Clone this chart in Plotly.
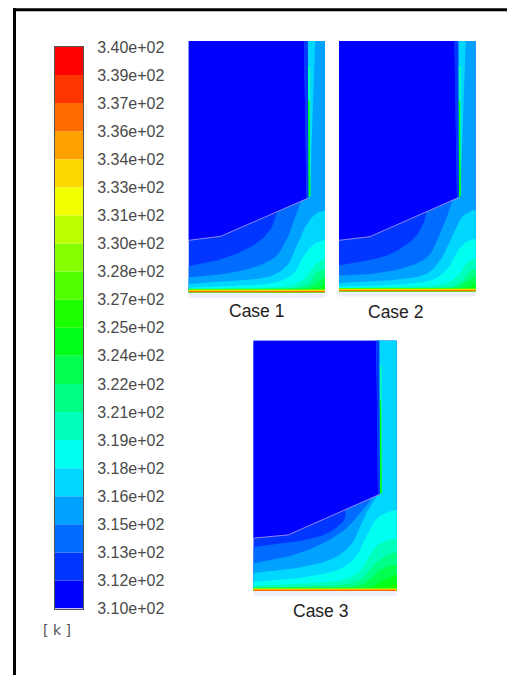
import plotly.graph_objects as go

W, H = 507, 676

# ---------- data ----------
legend_levels = [310, 311.5, 313, 314.5, 316, 317.5, 319, 320.5, 322, 323.5, 325,
                 326.5, 328, 329.5, 331, 332.5, 334, 335.5, 337, 338.5, 340]
legend_labels = ["3.10e+02", "3.12e+02", "3.13e+02", "3.15e+02", "3.16e+02", "3.18e+02", "3.19e+02",
                 "3.21e+02", "3.22e+02", "3.24e+02", "3.25e+02", "3.27e+02", "3.28e+02", "3.30e+02",
                 "3.31e+02", "3.33e+02", "3.34e+02", "3.36e+02", "3.37e+02", "3.39e+02", "3.40e+02"]
band_colors = ["#0000ff", "#0036ff", "#006bff", "#00a1ff", "#00d7ff", "#00fff1", "#00ffbc", "#00ff86",
               "#00ff50", "#00ff1b", "#1bff00", "#50ff00", "#86ff00", "#bcff00", "#f1ff00", "#ffd700",
               "#ffa100", "#ff6b00", "#ff3600", "#ff0000"]

case_names = ["Case 1", "Case 2", "Case 3"]

# isotherm curves (x, y) in panel units; first curve bounds band 2, next band 3, ...
case1_curves = [
    [(0, 26), (25, 31), (48, 38.7), (68, 49), (82, 63), (88, 79), (90, 86)],
    [(0, 15), (25, 17), (58, 22.7), (85, 34), (98, 52.7), (107, 76), (113, 93)],
    [(0, 8.3), (42, 11), (78, 15), (98, 26), (108, 46), (118, 67.7), (128, 79), (137, 82)],
    [(0, 4.5), (42, 6), (85, 9.3), (105, 19), (115, 36), (125, 47.7), (137, 52.7)],
    [(0, 3), (58, 4), (98, 6), (115, 12.7), (125, 26), (137, 34.3)],
    [(0, 2.6), (92, 3.3), (118, 7.7), (128, 19.3), (137, 22.7)],
    [(0, 2.3), (105, 2.7), (125, 7.7), (137, 16)],
    [(0, 2), (115, 2.2), (137, 9.3)],
    [(0, 1.8), (125, 2), (137, 5)],
]
case2_curves = [
    [(0, 25.7), (29, 30.7), (53, 38), (74, 52), (84, 67), (87, 78), (88, 85)],
    [(0, 15.7), (29, 17), (63, 22.7), (88, 34), (99, 53), (108, 75), (113, 90)],
    [(0, 8.3), (46, 10.7), (83, 15.7), (99, 28), (111, 50), (121, 71.7), (131, 80), (137, 81)],
    [(0, 4.5), (46, 6), (89, 10), (108, 21.7), (118, 40), (128, 50), (137, 52.3)],
    [(0, 3), (63, 4.3), (103, 6.7), (118, 15), (128, 28.3), (137, 33.3)],
    [(0, 2.6), (96, 3.3), (121, 8.3), (131, 20), (137, 22.3)],
    [(0, 2.3), (105, 2.7), (125, 8), (137, 16)],
    [(0, 2), (115, 2.2), (137, 9.3)],
    [(0, 1.8), (125, 2), (137, 5)],
]
case3_curves = [
    [(0, 44), (35, 48.5), (70, 56), (90, 70), (92, 84)],
    [(0, 27.7), (35, 34.7), (68, 47), (92, 62), (107, 78.7), (117, 90)],
    [(0, 18), (42, 23), (78, 32), (98, 47), (108, 68.7), (120, 90), (126, 99)],
    [(0, 9.3), (42, 12.7), (82, 20.3), (102, 33.7), (113, 55), (123, 72), (135, 79.3), (144, 81.3)],
    [(0, 5.3), (58, 7.7), (92, 12), (108, 22), (118, 38.7), (128, 48.7), (144, 53)],
    [(0, 3.3), (75, 5.3), (105, 10.3), (120, 25.3), (132, 35.3), (144, 39.3)],
    [(0, 2.8), (92, 3.7), (115, 10.3), (128, 22), (144, 27)],
    [(0, 2.4), (105, 2.6), (125, 8.7), (144, 17)],
    [(0, 2), (115, 2.2), (144, 8.7)],
]
case_curves = [case1_curves, case2_curves, case3_curves]

# solid-zone outlines, right-hand thin layers
case_outlines = [
    [(0, 52), (32, 56), (120, 94.3)],
    [(0, 51), (31, 54.7), (120, 94)],
    [(0, 53), (35, 56.3), (126.7, 97)],
]
case_solid_top_x = [115.5, 115.5, 123]
case_strip_top_x = [119.3, 119.3, 126]
case_wedge_top_x = [126.7, 126.7, 130.5]
case_extent_x = [136.5, 136.7, 143.4]
wall_heights = [3.4, 2.5, 1.6]
wall_bands = [10, 14, 17]
pale_depth = 5.5

# ---------- layout (pixel rectangles) ----------
panels = [(188.5, 41, 292.7), (339, 41, 291.7), (253.3, 341, 592)]
PAPER_TOP, PAPER_BOTTOM = 8, 668


def px_x(v):
    return v / W


def px_y(v):
    return (PAPER_BOTTOM - v) / (PAPER_BOTTOM - PAPER_TOP)


def smooth(points, n=8):
    """Catmull-Rom path through the read points, so isotherms are drawn as curves."""
    out = []
    p = [points[0]] + list(points) + [points[-1]]
    for i in range(1, len(p) - 2):
        p0, p1, p2, p3 = p[i - 1], p[i], p[i + 1], p[i + 2]
        for j in range(n):
            t = j / n
            t2, t3 = t * t, t * t * t
            out.append(tuple(
                0.5 * (2 * p1[c] + (p2[c] - p0[c]) * t + (2 * p0[c] - 5 * p1[c] + 4 * p2[c] - p3[c]) * t2
                       + (3 * p1[c] - p0[c] - 3 * p2[c] + p3[c]) * t3) for c in (0, 1)))
    out.append(points[-1])
    return out


fig = go.Figure()
layout = {}


def poly(points, color, ax, line=None):
    xs = [p[0] for p in points]
    ys = [p[1] for p in points]
    fig.add_trace(go.Scatter(x=xs, y=ys, mode="lines", fill="toself", fillcolor=color,
                             line=dict(width=0) if line is None else line,
                             hoverinfo="skip", showlegend=False, xaxis=f"x{ax}", yaxis=f"y{ax}"))


for i, (left, top, bottom) in enumerate(panels):
    ax = i + 1
    ex = case_extent_x[i]
    suf = "" if ax == 1 else str(ax)
    layout[f"xaxis{suf}"] = dict(domain=[px_x(left), px_x(left + ex)], range=[0, ex], visible=False,
                                 anchor=f"y{suf}", fixedrange=True)
    layout[f"yaxis{suf}"] = dict(domain=[px_y(bottom + pale_depth), px_y(top)],
                                 range=[-pale_depth, bottom - top], visible=False,
                                 anchor=f"x{suf}", fixedrange=True)
    ytop = bottom - top
    st, sp, wd = case_solid_top_x[i], case_strip_top_x[i], case_wedge_top_x[i]
    poly([(0, -pale_depth), (ex, -pale_depth), (ex, 0), (0, 0)], "#eceffa", ax)
    poly([(0, 0), (ex, 0), (ex, ytop), (0, ytop)], band_colors[1], ax)
    for k, curve in enumerate(case_curves[i]):
        pts = smooth(curve)
        if pts[-1][0] < ex - 1:
            pts = pts + [(st - 1, ytop), (ex, ytop)]
        poly(pts + [(ex, 0), (0, 0)], band_colors[k + 2], ax)
    for h, b in zip(wall_heights, wall_bands):
        poly([(0, 0), (ex, 0), (ex, h), (0, h)], band_colors[b], ax)
    outline = case_outlines[i]
    cx, cy = outline[-1]
    poly([(sp, ytop), (wd, ytop), (cx + 1.5, cy + 5), (cx, cy)], band_colors[4], ax)
    poly([(sp, ytop - 25), (sp + 2.4, ytop - 25), (cx + 2, cy + 2), (cx, cy)], band_colors[6], ax)
    poly([(sp + 0.2, ytop - 60), (sp + 1.8, ytop - 60), (cx + 1.8, cy + 2), (cx, cy)], band_colors[9], ax)
    poly([(st, ytop), (sp, ytop), (cx, cy), (cx - 2, cy)], band_colors[1], ax)
    poly([(0, ytop)] + outline[:-1] + [(cx - 2, cy - 0.5), (st, ytop)], band_colors[0], ax)
    fig.add_trace(go.Scatter(x=[p[0] for p in outline], y=[p[1] for p in outline], mode="lines",
                             line=dict(color="#8f86f2", width=1), hoverinfo="skip", showlegend=False,
                             xaxis=f"x{ax}", yaxis=f"y{ax}"))

# ---------- colour legend ----------
fig.add_trace(go.Bar(
    x=[0] * len(band_colors),
    y=[b - a for a, b in zip(legend_levels[:-1], legend_levels[1:])],
    base=legend_levels[:-1],
    width=1,
    marker=dict(color=band_colors, line=dict(width=0)),
    hoverinfo="skip", showlegend=False, xaxis="x4", yaxis="y4"))

layout["xaxis4"] = dict(domain=[px_x(54.5), px_x(83)], range=[-0.5, 0.5], showticklabels=False, ticks="",
                        showgrid=False, zeroline=False, showline=True, linecolor="#555555", linewidth=1,
                        mirror=True, anchor="y4", fixedrange=True)
layout["yaxis4"] = dict(domain=[px_y(609.5), px_y(47)], range=[310, 340], side="right", tickmode="array",
                        tickvals=legend_levels, ticktext=legend_labels, ticks="outside", ticklen=10,
                        tickcolor="rgba(0,0,0,0)", showgrid=False, zeroline=False, showline=True,
                        linecolor="#555555", linewidth=1, mirror=True, anchor="x4", fixedrange=True,
                        tickfont=dict(family="Liberation Sans", size=16, color="#4a4a4a"))

annotations = [
    dict(text="[ k ]", x=px_x(57), y=px_y(631), font=dict(family="DejaVu Sans", size=14, color="#555555")),
    dict(text=case_names[0], x=px_x(256.5), y=px_y(311), font=dict(family="Liberation Sans", size=17.5, color="#222222")),
    dict(text=case_names[1], x=px_x(395), y=px_y(312), font=dict(family="Liberation Sans", size=17.5, color="#222222")),
    dict(text=case_names[2], x=px_x(320), y=px_y(612), font=dict(family="Liberation Sans", size=17.5, color="#222222")),
]
for a in annotations:
    a.update(xref="paper", yref="paper", showarrow=False, xanchor="center", yanchor="middle")

shapes = [
    dict(type="line", xref="paper", yref="paper", x0=px_x(13), x1=1, y0=px_y(9.8), y1=px_y(9.8),
         line=dict(color="#000000", width=3)),
    dict(type="line", xref="paper", yref="paper", x0=px_x(14.5), x1=px_x(14.5), y0=px_y(H), y1=px_y(8.3),
         line=dict(color="#000000", width=3)),
]

fig.update_layout(width=W, height=H, margin=dict(l=0, r=0, t=0, b=0), paper_bgcolor="white",
                  plot_bgcolor="rgba(0,0,0,0)", showlegend=False, barmode="overlay",
                  annotations=annotations, shapes=shapes, **layout)

fig.write_html("out.html", config=dict(displayModeBar=False), default_width=f"{W}px", default_height=f"{H}px",
               post_script=("document.body.style.margin='0';document.documentElement.style.margin='0';"
                            "document.body.style.overflow='hidden';"
                            f"Plotly.relayout(document.getElementsByClassName('plotly-graph-div')[0],"
                            f"{{width:{W},height:{H}}});"))
